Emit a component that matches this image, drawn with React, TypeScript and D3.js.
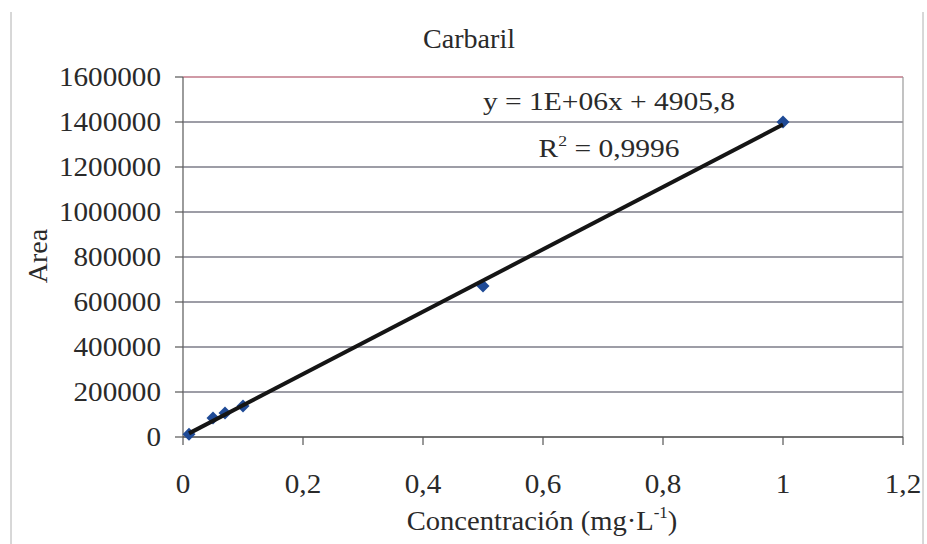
import React from "react";
import * as d3 from "d3";

const title = "Carbaril";
const xLabel = "Concentración (mg·L";
const yLabel = "Area";
const xVals = [0.01, 0.05, 0.07, 0.1, 0.5, 1];
const yVals = [12000, 84000, 107000, 138000, 671000, 1400000];
const xTicks = [0, 0.2, 0.4, 0.6, 0.8, 1, 1.2];
const xTickLabels = ["0", "0,2", "0,4", "0,6", "0,8", "1", "1,2"];
const yTicks = [0, 200000, 400000, 600000, 800000, 1000000, 1200000, 1400000, 1600000];
const yTickLabels = ["0", "200000", "400000", "600000", "800000", "1000000", "1200000", "1400000", "1600000"];
const eqText = "y = 1E+06x + 4905,8";
const r2Value = " = 0,9996";

const W = 927;
const H = 544;
const FONT = "Liberation Serif";
const FS = 27;
const SX = 1.08;
const TXT = "#2a2a2a";

function T(props: { x: number; y: number; anchor?: string; size?: number; sx?: number; children: React.ReactNode; rotate?: number }) {
  const { x, y, anchor = "middle", size = FS, sx = SX, rotate = 0 } = props;
  return (
    <g transform={`translate(${x},${y}) rotate(${rotate}) scale(${sx},1)`}>
      <text x={0} y={0} textAnchor={anchor} fontSize={size} fill={TXT} style={{ fontFamily: FONT }}>
        {props.children}
      </text>
    </g>
  );
}

export default function App() {
  const x = d3.scaleLinear().domain([0, 1.2]).range([183, 903]);
  const y = d3.scaleLinear().domain([0, 1600000]).range([437, 77]);

  const pts = xVals.map((v, i) => [v, yVals[i]] as [number, number]);
  const mx = d3.mean(xVals) as number;
  const my = d3.mean(yVals) as number;
  let sxy = 0, sxx = 0;
  pts.forEach(([a, b]) => { sxy += (a - mx) * (b - my); sxx += (a - mx) * (a - mx); });
  const slope = sxy / sxx;
  const icpt = my - slope * mx;
  const xr = d3.extent(xVals) as [number, number];
  const fitLine = d3.line<number>().x((d) => x(d)).y((d) => y(slope * d + icpt))(xr) || "";

  const diamond = d3.symbol().type(d3.symbolSquare).size(85)() || "";

  return (
    <svg width={W} height={H} style={{ position: "absolute", left: 0, top: 0, background: "#fff" }}>
      <rect x={0} y={0} width={W} height={H} fill="#fff" />
      {/* outer chart frame */}
      <line x1={11} x2={11} y1={12} y2={H} stroke="#b0b0b0" strokeWidth={1} />
      <line x1={923} x2={923} y1={12} y2={H} stroke="#b0b0b0" strokeWidth={1} />

      <T x={469} y={48} size={27} sx={1.04}>{title}</T>

      {/* gridlines */}
      {yTicks.map((t) =>
        t > 0 ? (
          <line key={"g" + t} x1={183} x2={903} y1={y(t)} y2={y(t)}
            stroke={t === 1600000 ? "#c07888" : "#7c7c88"} strokeWidth={1.3} />
        ) : null
      )}
      {/* right border */}
      <line x1={903} x2={903} y1={77} y2={437} stroke="#9a9a9a" strokeWidth={1.2} />
      {/* axes */}
      <line x1={183} x2={183} y1={77} y2={437} stroke="#666" strokeWidth={1.3} />
      <line x1={183} x2={903} y1={437} y2={437} stroke="#444" strokeWidth={1.6} />

      {/* y ticks */}
      {yTicks.map((t, i) => (
        <g key={"yt" + t}>
          <line x1={175} x2={183} y1={y(t)} y2={y(t)} stroke="#555" strokeWidth={1.2} />
          <T x={161} y={y(t) + 9} anchor="end">{yTickLabels[i]}</T>
        </g>
      ))}
      {/* x ticks */}
      {xTicks.map((t, i) => (
        <g key={"xt" + t}>
          <line x1={x(t)} x2={x(t)} y1={437} y2={445} stroke="#555" strokeWidth={1.2} />
          <T x={x(t)} y={493}>{xTickLabels[i]}</T>
        </g>
      ))}

      {/* axis titles */}
      <T x={47} y={256} rotate={-90} sx={1.04}>{yLabel}</T>
      <T x={542} y={530} sx={1.06}>
        {xLabel}
        <tspan fontSize={16} dy={-12}>-1</tspan>
        <tspan dy={12}>)</tspan>
      </T>

      {/* markers */}
      {pts.map(([a, b], i) => (
        <path key={"m" + i} d={diamond} transform={`translate(${x(a)},${y(b)}) rotate(45)`} fill="#1f4a96" />
      ))}

      {/* trendline */}
      <path d={fitLine} fill="none" stroke="#151515" strokeWidth={4} />

      {/* equation */}
      <T x={609} y={110} size={25} sx={1.18}>{eqText}</T>
      <T x={609} y={157} size={25} sx={1.18}>
        R<tspan fontSize={15} dy={-11}>2</tspan>
        <tspan dy={11}>{r2Value}</tspan>
      </T>
    </svg>
  );
}
